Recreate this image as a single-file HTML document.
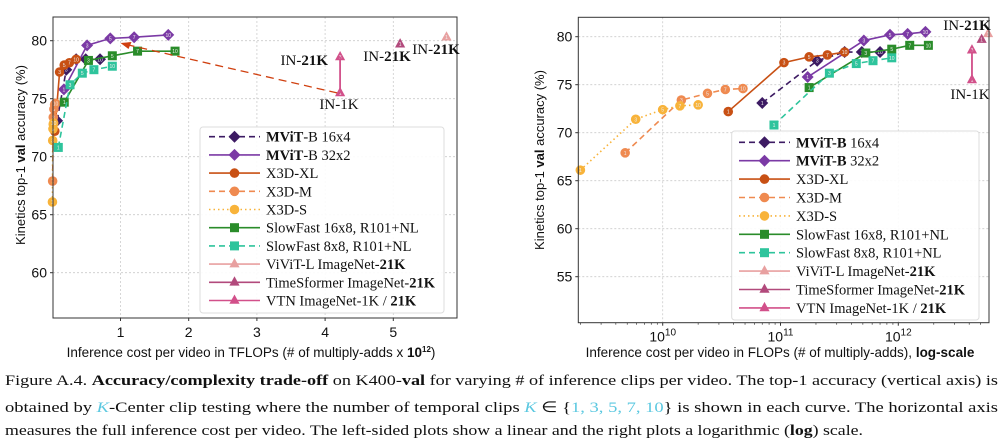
<!DOCTYPE html>
<html><head><meta charset="utf-8">
<style>
html,body{margin:0;padding:0;background:#fff;}
svg{display:block;}
.tick{font-family:"Liberation Sans",sans-serif;font-size:14px;fill:#111;}
.ser{font-family:"Liberation Serif",serif;fill:#111;}
</style></head>
<body>
<svg id="fig" width="1004" height="440" viewBox="0 0 1004 440" xmlns="http://www.w3.org/2000/svg">
  <g id="left"></g>
  <g id="right"></g>
  <g class="ser" font-size="15">
    <text x="5" y="385" textLength="993" lengthAdjust="spacingAndGlyphs">Figure A.4. <tspan font-weight="bold">Accuracy/complexity trade-off</tspan> on K400-<tspan font-weight="bold">val</tspan> for varying # of inference clips per video. The top-1 accuracy (vertical axis) is</text>
    <text x="5" y="412" textLength="993" lengthAdjust="spacingAndGlyphs">obtained by <tspan fill="#5bc8e0" font-style="italic">K</tspan>-Center clip testing where the number of temporal clips <tspan fill="#5bc8e0" font-style="italic">K</tspan> ∈ {<tspan fill="#5bc8e0">1, 3, 5, 7, 10</tspan>} is shown in each curve. The horizontal axis</text>
    <text x="5" y="435" textLength="858" lengthAdjust="spacingAndGlyphs">measures the full inference cost per video. The left-sided plots show a linear and the right plots a logarithmic (<tspan font-weight="bold">log</tspan>) scale.</text>
  </g>
</svg>
<script>
// ---- data (FLOPs, accuracy %) ----
const clipLabels = ["1","3","5","7","10"];
const mvit16Flops = [7e10, 2.05e11, 3.5e11, 4.9e11, 7e11];
const mvit16Acc   = [73.1, 77.5, 78.4, 78.4, 78.4];
const mvit32Flops = [1.7e11, 5.1e11, 8.5e11, 1.2e12, 1.7e12];
const mvit32Acc   = [75.8, 79.6, 80.2, 80.3, 80.5];
const x3dxlFlops  = [3.6e10, 1.07e11, 1.75e11, 2.5e11, 3.5e11];
const x3dxlAcc    = [72.2, 77.3, 77.9, 78.1, 78.4];
const x3dmFlops   = [4.8e9, 1.44e10, 2.4e10, 3.4e10, 4.8e10];
const x3dmAcc     = [67.9, 73.4, 74.1, 74.5, 74.6];
const x3dsFlops   = [2.0e9, 5.9e9, 1.0e10, 1.4e10, 2.0e10];
const x3dsAcc     = [66.1, 71.4, 72.4, 72.8, 72.9];
const sf16Flops   = [1.75e11, 5.3e11, 8.8e11, 1.25e12, 1.8e12];
const sf16Acc     = [74.7, 78.3, 78.7, 79.1, 79.1];
const sf8Flops    = [8.8e10, 2.6e11, 4.4e11, 6.1e11, 8.8e11];
const sf8Acc      = [70.8, 76.2, 77.2, 77.5, 77.8];
const vivitFlops  = [5.78e12]; const vivitAcc = [80.3];
const tsfFlops    = [5.1e12];  const tsfAcc   = [79.7];
const vtnFlops    = [4.22e12, 4.22e12]; const vtnAcc = [75.5, 78.6];
const linXTicks = [1,2,3,4,5];
const logXTicks = [10,11,12];
const leftYTicks = [60,65,70,75,80];
const rightYTicks = [55,60,65,70,75,80];

const NS="http://www.w3.org/2000/svg";
function mk(tag, attrs, parent){const e=document.createElementNS(NS,tag);for(const k in attrs)e.setAttribute(k,attrs[k]);if(parent)parent.appendChild(e);return e;}

const series = [
 {name:"MViT-B 16x4", key:"mvit-b-16x4", fx:mvit16Flops, y:mvit16Acc, c:"#3d1b63", dash:"6,4", m:"diamond", bold:"MViT-B", rest:" 16x4", boldLeft:"MViT", restLeft:"-B 16x4"},
 {name:"MViT-B 32x2", key:"mvit-b-32x2", fx:mvit32Flops, y:mvit32Acc, c:"#7b3aa5", dash:"", m:"diamond", bold:"MViT-B", rest:" 32x2", boldLeft:"MViT", restLeft:"-B 32x2"},
 {name:"X3D-XL", key:"x3d-xl", fx:x3dxlFlops, y:x3dxlAcc, c:"#c85014", dash:"", m:"circle"},
 {name:"X3D-M", key:"x3d-m", fx:x3dmFlops, y:x3dmAcc, c:"#ef8a50", dash:"6,4", m:"circle"},
 {name:"X3D-S", key:"x3d-s", fx:x3dsFlops, y:x3dsAcc, c:"#f8b33a", dash:"1.5,3", m:"circle"},
 {name:"SlowFast 16x8, R101+NL", key:"slowfast-16x8", fx:sf16Flops, y:sf16Acc, c:"#2a8c2a", dash:"", m:"square"},
 {name:"SlowFast 8x8, R101+NL", key:"slowfast-8x8", fx:sf8Flops, y:sf8Acc, c:"#2ec49c", dash:"6,4", m:"square"},
 {name:"ViViT-L ImageNet-", tail:"21K", key:"vivit-l", fx:vivitFlops, y:vivitAcc, c:"#e8a0a0", dash:"", m:"tri"},
 {name:"TimeSformer ImageNet-", tail:"21K", key:"timesformer", fx:tsfFlops, y:tsfAcc, c:"#b24a7c", dash:"", m:"tri"},
 {name:"VTN ImageNet-1K / ", tail:"21K", key:"vtn", fx:vtnFlops, y:vtnAcc, c:"#d2508a", dash:"", m:"tri"}
];

function marker(g, m, x, y, c, s){
  let e;
  if(m==="diamond") e=mk("polygon",{points:`${x},${y-s} ${x+s},${y} ${x},${y+s} ${x-s},${y}`,fill:c},g);
  else if(m==="circle") e=mk("circle",{cx:x,cy:y,r:s*0.8,fill:c},g);
  else if(m==="square") e=mk("rect",{x:x-s*0.75,y:y-s*0.75,width:s*1.5,height:s*1.5,fill:c},g);
  else e=mk("polygon",{points:`${x},${y-s} ${x+s*0.85},${y+s*0.55} ${x-s*0.85},${y+s*0.55}`,fill:c},g);
  return e;
}

function drawChart(g, P, xf, yf, xTicksDraw, yTicks, isLog){
  const grid=mk("g",{},g);
  
  
  xTicksDraw.forEach(t=>{const x=t.px;mk("line",{x1:x,x2:x,y1:P.t,y2:P.b,stroke:"#ccc","stroke-dasharray":"2,2","stroke-width":0.8},grid);});
  yTicks.forEach(v=>{const y=yf(v);mk("line",{x1:P.l,x2:P.r,y1:y,y2:y,stroke:"#ccc","stroke-dasharray":"2,2","stroke-width":0.8},grid);});
  const yax=mk("g",{},g);
  
  
  yTicks.forEach(v=>{const y=yf(v);mk("line",{x1:P.l-3,x2:P.l,y1:y,y2:y,stroke:"#333"},yax);
    const t=mk("text",{x:P.l-6,y:y+5,"text-anchor":"end",class:"tick"},yax);t.textContent=v;});
  const xax=mk("g",{},g);
  
  
  xTicksDraw.forEach(t=>{mk("line",{x1:t.px,x2:t.px,y1:P.b,y2:P.b+3,stroke:"#333"},xax);
    const tx=mk("text",{x:t.px,y:P.b+19,"text-anchor":"middle",class:"tick"},xax);
    if(t.exp){tx.textContent="10";const sp=mk("tspan",{dy:-6,"font-size":10},tx);sp.textContent=t.exp;}
    else tx.textContent=t.label;});
  if(isLog){
    for(let d=9; d<=12; d++) for(let k=2;k<=9;k++){const v=k*Math.pow(10,d);const x=xf(v);if(x>P.l&&x<P.r)mk("line",{x1:x,x2:x,y1:P.b,y2:P.b+2,stroke:"#333","stroke-width":0.7},xax);}
  }
  series.forEach(s=>{
    const sg=mk("g",{},g);
    
    
    const pts=s.fx.map((f,i)=>[xf(f),yf(s.y[i])]);
    if(pts.length>1){
      const pl=mk("polyline",{points:pts.map(p=>p.join(",")).join(" "),fill:"none",stroke:s.c,"stroke-width":1.6},sg);
      if(s.dash)pl.setAttribute("stroke-dasharray",s.dash);
    }
    pts.forEach((p,i)=>{
      const mkEl=marker(sg,s.m,p[0],p[1],s.c,6);
      
      
      const lab=mk("text",{x:p[0],y:p[1]+2,"text-anchor":"middle","font-size":5,fill:"#eee","font-family":"Liberation Sans,sans-serif"},sg);
      lab.textContent=clipLabels[i]||"1";
    });
  });
  mk("rect",{x:P.l,y:P.t,width:P.r-P.l,height:P.b-P.t,fill:"none",stroke:"#333","stroke-width":1},g);
}

function legend(g, L, boldFirst){
  const lg=mk("g",{},g);
  
  
  mk("rect",{x:L.x,y:L.y,width:L.w,height:L.h,rx:3,fill:"#fff","fill-opacity":0.9,stroke:"#ddd"},lg);
  series.forEach((s,i)=>{
    const e=mk("g",{},lg);
    
    
    const y=L.y0+i*L.step;
    const ln=mk("line",{x1:L.lx,x2:L.lx+51,y1:y,y2:y,stroke:s.c,"stroke-width":1.6},e);
    if(s.dash)ln.setAttribute("stroke-dasharray",s.dash);
    marker(e,s.m,L.lx+25.5,y,s.c,6);
    const t=mk("text",{x:L.lx+57,y:y+5,class:"ser","font-size":14.5},e);
    if(s.bold){const b=mk("tspan",{"font-weight":"bold"},t);b.textContent=boldFirst?s.bold:s.boldLeft;const r=mk("tspan",{},t);r.textContent=boldFirst?s.rest:s.restLeft;}
    else {const a=mk("tspan",{},t);a.textContent=s.name;if(s.tail){const b=mk("tspan",{"font-weight":"bold"},t);b.textContent=s.tail;}}
  });
}
function label(g,x,y,parts,anchor){
  const t=mk("text",{x:x,y:y,class:"ser","font-size":15,"text-anchor":anchor||"start"},g);
  
  
  parts.forEach(p=>{const s=mk("tspan",p[1]?{"font-weight":"bold"}:{},t);s.textContent=p[0];});
}

// ---- left chart ----
const gl=document.getElementById("left");
const PL={l:53,r:457,t:17,b:318};
const lxf=f=>52.3+(f/1e12)*68.2;
const lyf=v=>40.7+(80-v)*11.6;
drawChart(gl,PL,lxf,lyf,linXTicks.map(t=>({px:lxf(t*1e12),label:t})),leftYTicks,false);
(function(){const a=mk("g",{},gl);


const x1=lxf(vtnFlops[0]),y1=lyf(vtnAcc[0]),x2=lxf(1.0e12),y2=lyf(79.8);
mk("line",{x1:x1-3,y1:y1,x2:x2+8,y2:y2+2,stroke:"#d04010","stroke-width":1.3,"stroke-dasharray":"8,5"},a);
mk("polygon",{points:`${x2},${y2} ${x2+11},${y2-1} ${x2+8},${y2+6}`,fill:"#d04010"},a);
mk("line",{x1:x1,x2:x1,y1:y1,y2:lyf(vtnAcc[1]),stroke:"#d2508a","stroke-width":1.6},a);
})();
label(gl,328,65,[["IN-",0],["21K",1]],"end");
label(gl,339,109,[["IN-1K",0]],"middle");
label(gl,387,61,[["IN-",0],["21K",1]],"middle");
label(gl,436,54,[["IN-",0],["21K",1]],"middle");
legend(gl,{x:200,y:127,w:244,h:186,lx:209,y0:136.7,step:18.2},false);
(function(){
const t=mk("text",{x:251,y:357,"text-anchor":"middle","font-family":"Liberation Sans,sans-serif","font-size":13.5,fill:"#111"},gl);

t.innerHTML='Inference cost per video in TFLOPs (# of multiply-adds x <tspan font-weight="bold">10</tspan><tspan font-weight="bold" font-size="8" dy="-5">12</tspan><tspan dy="5">)</tspan>';
const y=mk("text",{x:0,y:0,transform:"translate(25,155) rotate(-90)","text-anchor":"middle","font-family":"Liberation Sans,sans-serif","font-size":13,fill:"#111"},gl);

y.innerHTML='Kinetics top-1 <tspan font-weight="bold">val</tspan> accuracy (%)';
})();

// ---- right chart (log) ----
const gr=document.getElementById("right");
const PR={l:578.3,r:989,t:17.3,b:322.7};
const rxf=f=>662.7+(Math.log10(f)-10)*117.8;
const ryf=v=>36.7+(80-v)*9.6;
drawChart(gr,PR,rxf,ryf,logXTicks.map(e=>({px:rxf(Math.pow(10,e)),exp:String(e)})),rightYTicks,true);
(function(){const a=mk("g",{},gr);

mk("line",{x1:rxf(vtnFlops[0]),x2:rxf(vtnFlops[0]),y1:ryf(vtnAcc[0]),y2:ryf(vtnAcc[1]),stroke:"#d2508a","stroke-width":1.6},a);})();
label(gr,967,30,[["IN-",0],["21K",1]],"middle");
label(gr,970,99,[["IN-1K",0]],"middle");
legend(gr,{x:731.7,y:131,w:247.3,h:189,lx:739,y0:142.3,step:18.4},true);
(function(){
const t=mk("text",{x:780,y:357,"text-anchor":"middle","font-family":"Liberation Sans,sans-serif","font-size":13.5,fill:"#111"},gr);

t.innerHTML='Inference cost per video in FLOPs (# of multiply-adds), <tspan font-weight="bold">log-scale</tspan>';
const y=mk("text",{x:0,y:0,transform:"translate(544,160) rotate(-90)","text-anchor":"middle","font-family":"Liberation Sans,sans-serif","font-size":13,fill:"#111"},gr);

y.innerHTML='Kinetics top-1 <tspan font-weight="bold">val</tspan> accuracy (%)';
})();
</script>
</body></html>
